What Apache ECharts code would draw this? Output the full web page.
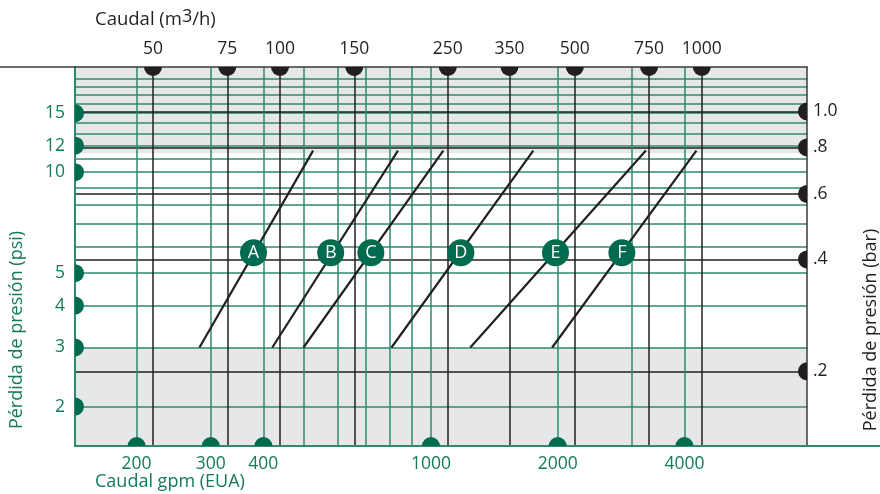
<!DOCTYPE html>
<html>
<head>
<meta charset="utf-8">
<script src="https://cdn.jsdelivr.net/npm/echarts@6/dist/echarts.min.js"></script>
<style>
html, body { margin: 0; padding: 0; background: #fff; }
#chart { width: 880px; height: 494px; }
</style>
</head>
<body>
<div id="chart"></div>
<script>
// pressure loss (psi) grid lines and labelled values
var psiLines = [2, 3, 4, 5, 6, 7, 8, 9, 10, 11, 12, 13, 14, 15, 16, 17, 18, 19];
var psiLabels = [2, 3, 4, 5, 10, 12, 15];
// pressure loss (bar), right side
var barLabels = [0.2, 0.4, 0.6, 0.8, 1.0];
// flow in gpm (bottom)
var gpmLines = [200, 300, 400, 500, 600, 700, 800, 900, 1000, 2000, 3000, 4000];
var gpmLabels = [200, 300, 400, 1000, 2000, 4000];
// flow in m3/h (top)
var m3hLabels = [50, 75, 100, 150, 250, 350, 500, 750, 1000];

// curves A..F: flow at the low and high end of each line
var curveNames = ['A', 'B', 'C', 'D', 'E', 'F'];
var curveStartGpm = [282, 420, 498, 806, 1240, 1940];
var curveEndGpm = [525, 835, 1070, 1750, 3240, 4270];
var curveStartPsi = [3, 3, 3, 3, 3, 3];
var curveEndPsi = [11.6, 11.6, 11.6, 11.6, 11.6, 11.6];
var markerGpm = [379, 578, 720, 1178, 1976, 2841];
var markerPsi = [5.75, 5.75, 5.75, 5.75, 5.75, 5.75];

// shaded bands (psi)
var shadeLow = [3];
var shadeHigh = [11.4];

// axis ranges
var gpmMin = 142.8, gpmMax = 7817;
var m3hMin = 32.66, m3hMax = 1776;
var psiMin = 1.525, psiMax = 20.6;
var barMin = 0.1259, barMax = 1.317;

var GREEN = '#006b4f';
var GRID_GREEN = '#2f8a6e';
var TEXT_GREEN = '#137a5b';
var DARK = '#231f20';
var FONT = 'Open Sans';

var chart = echarts.init(document.getElementById('chart'));

var series = [];

series.push({
	type: 'scatter',
	data: [],
	z: 1,
	silent: true,
	markArea: {
		silent: true,
		itemStyle: { color: '#e6e7e8' },
		data: [
			[{ xAxis: gpmMin, yAxis: psiMin }, { xAxis: gpmMax, yAxis: shadeLow[0] }],
			[{ xAxis: gpmMin, yAxis: shadeHigh[0] }, { xAxis: gpmMax, yAxis: psiMax }]
		]
	}
});

for (var i = 0; i < curveNames.length; i++) {
	series.push({
		name: curveNames[i],
		type: 'line',
		xAxisIndex: 0,
		yAxisIndex: 0,
		z: 3,
		silent: true,
		symbol: 'none',
		lineStyle: { color: DARK, width: 2.2 },
		data: [[curveStartGpm[i], curveStartPsi[i]], [curveEndGpm[i], curveEndPsi[i]]]
	});
}

series.push({
	type: 'scatter',
	xAxisIndex: 0,
	yAxisIndex: 0,
	z: 5,
	silent: true,
	symbolSize: 27,
	itemStyle: { color: GREEN, opacity: 1 },
	label: {
		show: true,
		position: 'inside',
		color: '#fff',
		fontSize: 18,
		fontFamily: FONT,
		formatter: function (p) { return p.data[2]; }
	},
	data: curveNames.map(function (n, i) { return [markerGpm[i], markerPsi[i], n]; })
});

// half discs sitting on the frame, facing into the plot
function halfDisc(xIdx, yIdx, color, a0, a1, data) {
	return {
		type: 'custom',
		coordinateSystem: 'cartesian2d',
		xAxisIndex: xIdx,
		yAxisIndex: yIdx,
		z: 4,
		silent: true,
		encode: { x: 0, y: 1 },
		data: data,
		renderItem: function (params, api) {
			var p = api.coord([api.value(0), api.value(1)]);
			return {
				type: 'sector',
				shape: { cx: p[0], cy: p[1], r0: 0, r: 9, startAngle: a0, endAngle: a1 },
				style: { fill: color }
			};
		}
	};
}
var PI = Math.PI;
series.push(halfDisc(0, 0, GREEN, -PI / 2, PI / 2, psiLabels.map(function (p) { return [gpmMin, p]; })));
series.push(halfDisc(0, 0, GREEN, PI, 2 * PI, gpmLabels.map(function (g) { return [g, psiMin]; })));
series.push(halfDisc(1, 0, DARK, 0, PI, m3hLabels.map(function (m) { return [m, psiMax]; })));
series.push(halfDisc(0, 1, DARK, PI / 2, 3 * PI / 2, barLabels.map(function (b) { return [gpmMax, b]; })));

function plain(v) { return String(Math.round(v)); }

chart.setOption({
	animation: false,
	grid: { left: 75, right: 73, top: 67, bottom: 48, outerBoundsMode: 'none' },
	xAxis: [{
		type: 'log', position: 'bottom', min: gpmMin, max: gpmMax, z: 2,
		axisLine: { onZero: false, lineStyle: { color: GRID_GREEN, width: 2 } },
		axisTick: { show: false, customValues: gpmLines },
		axisLabel: { customValues: gpmLabels, color: TEXT_GREEN, fontSize: 17.5, fontFamily: FONT, margin: 9, formatter: plain },
		splitLine: { show: true, lineStyle: { color: GRID_GREEN, width: 1.5 } }
	}, {
		type: 'log', position: 'top', min: m3hMin, max: m3hMax, z: 2,
		axisLine: { onZero: false, lineStyle: { color: '#3a3a3a', width: 1.5 } },
		axisTick: { show: false, customValues: m3hLabels },
		axisLabel: { customValues: m3hLabels, color: DARK, fontSize: 17.5, fontFamily: FONT, margin: 9, formatter: plain },
		splitLine: { show: true, lineStyle: { color: DARK, width: 1.5 } }
	}],
	yAxis: [{
		type: 'log', position: 'left', min: psiMin, max: psiMax, z: 2,
		axisLine: { onZero: false, lineStyle: { color: GRID_GREEN, width: 2 } },
		axisTick: { show: false, customValues: psiLines },
		axisLabel: { customValues: psiLabels, color: TEXT_GREEN, fontSize: 17.5, fontFamily: FONT, margin: 10, formatter: plain },
		splitLine: { show: true, lineStyle: { color: GRID_GREEN, width: 1.5 } }
	}, {
		type: 'log', position: 'right', min: barMin, max: barMax, z: 2,
		axisLine: { onZero: false, lineStyle: { color: '#3a3a3a', width: 1.5 } },
		axisTick: { show: false, customValues: barLabels },
		axisLabel: {
			customValues: barLabels, color: DARK, fontSize: 17.5, fontFamily: FONT, margin: 6,
			formatter: function (v) { return v >= 0.99 ? '1.0' : '.' + Math.round(v * 10); }
		},
		splitLine: { show: true, lineStyle: { color: DARK, width: 1.5 } }
	}],
	graphic: [
		{ type: 'line', shape: { x1: 0, y1: 67, x2: 75, y2: 67 }, style: { stroke: '#3a3a3a', lineWidth: 1.5 }, z: 10 },
		{ type: 'line', shape: { x1: 807, y1: 446, x2: 880, y2: 446 }, style: { stroke: GRID_GREEN, lineWidth: 2 }, z: 10 },
		{
			type: 'text', x: 95, y: 20,
			style: {
				text: '{n|Caudal (m}{s|3}{n|/h)}',
				verticalAlign: 'middle',
				rich: {
					n: { fontSize: 18.5, fontFamily: FONT, fill: DARK, lineHeight: 24 },
					s: { fontSize: 18, fontFamily: FONT, fill: DARK, lineHeight: 18, verticalAlign: 'top' }
				}
			}
		},
		{
			type: 'text', x: 95, y: 482,
			style: { text: 'Caudal gpm (EUA)', fontSize: 18, fontFamily: FONT, fill: TEXT_GREEN, verticalAlign: 'middle' }
		},
		{
			type: 'text', x: 17, y: 330, rotation: Math.PI / 2,
			style: { text: 'Pérdida de presión (psi)', fontSize: 18, fontFamily: FONT, fill: TEXT_GREEN, align: 'center', verticalAlign: 'middle' }
		},
		{
			type: 'text', x: 871, y: 330, rotation: Math.PI / 2,
			style: { text: 'Pérdida de presión (bar)', fontSize: 18, fontFamily: FONT, fill: DARK, align: 'center', verticalAlign: 'middle' }
		}
	],
	series: series
});
</script>
</body>
</html>
